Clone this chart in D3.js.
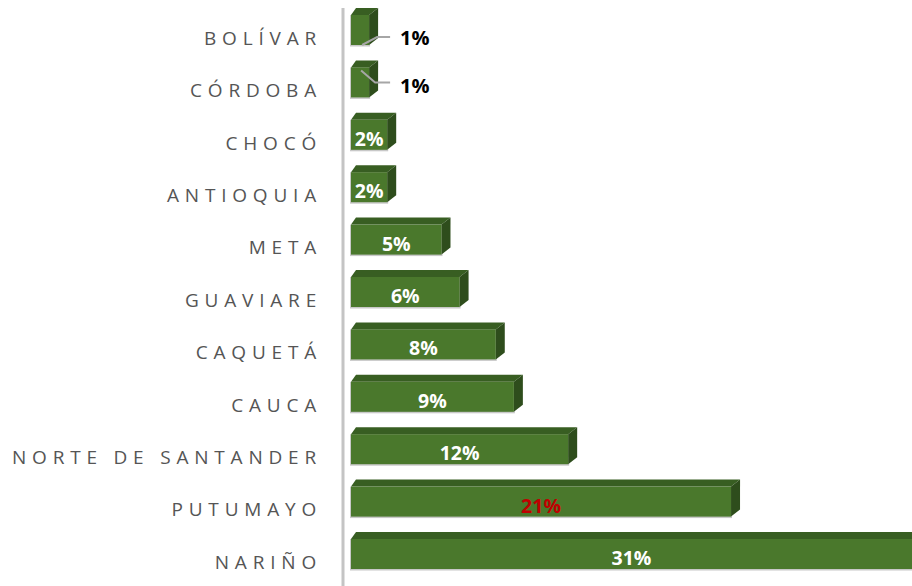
<!DOCTYPE html>
<html>
<head>
<meta charset="utf-8">
<script src="https://cdn.jsdelivr.net/npm/d3@7"></script>
<style>
  html, body { margin: 0; padding: 0; background: #fff; }
  svg { display: block; }
</style>
</head>
<body>
<div id="wrapper"></div>
<script>
const categories = ["BOLÍVAR", "CÓRDOBA", "CHOCÓ", "ANTIOQUIA", "META", "GUAVIARE",
  "CAQUETÁ", "CAUCA", "NORTE DE SANTANDER", "PUTUMAYO", "NARIÑO"];
const values = [1, 1, 2, 2, 5, 6, 8, 9, 12, 21, 31];
const valueLabels = ["1%", "1%", "2%", "2%", "5%", "6%", "8%", "9%", "12%", "21%", "31%"];

function drawBarChart() {
  const dataset = categories.map((c, i) => ({ cat: c, value: values[i], label: valueLabels[i] }));

  const dimensions = {
    width: 912,
    height: 586,
    margin: { top: 12, right: 0, bottom: 0, left: 351 },
  };

  const depth = { dx: 9, dy: 7, dxLeft: 5 };
  const faceHeight = 30;

  const wrapper = d3.select("#wrapper")
    .append("svg")
      .attr("width", dimensions.width)
      .attr("height", dimensions.height);

  // scales
  const xScale = d3.scaleLinear()
    .domain([0, 31])
    .range([dimensions.margin.left, dimensions.width]);

  const yScale = d3.scalePoint()
    .domain(categories)
    .range([38, 562]);

  // axis line
  wrapper.append("line")
    .attr("x1", 343).attr("x2", 343)
    .attr("y1", 8).attr("y2", dimensions.height)
    .attr("stroke", "#c4c4c4")
    .attr("stroke-width", 3);

  // category labels
  wrapper.append("g")
    .selectAll("text")
    .data(dataset)
    .join("text")
      .attr("x", 322)
      .attr("y", d => yScale(d.cat))
      .attr("dy", "0.36em")
      .attr("text-anchor", "end")
      .style("font-family", "'Open Sans', sans-serif")
      .style("font-size", "19px")
      .style("letter-spacing", "5.8px")
      .attr("fill", "#555555")
      .text(d => d.cat);

  // bars (3D look)
  const bars = wrapper.append("g")
    .selectAll("g")
    .data(dataset)
    .join("g");

  const x0 = xScale(0);
  const top = d => yScale(d.cat) - 23;
  const bottom = d => top(d) + faceHeight;

  // soft shadow outline
  bars.append("rect")
    .attr("x", x0 - 1)
    .attr("y", d => top(d))
    .attr("width", d => xScale(d.value) - x0 + 2)
    .attr("height", faceHeight + 1.5)
    .attr("fill", "#c8c8c8");

  bars.append("path")
    .attr("fill", "#385e22")
    .attr("d", d => {
      const x1 = xScale(d.value), y0 = top(d);
      return `M${x0},${y0} L${x0 + depth.dxLeft},${y0 - depth.dy} L${x1 + depth.dx},${y0 - depth.dy} L${x1},${y0} Z`;
    });

  bars.append("path")
    .attr("fill", "#2e4d1c")
    .attr("d", d => {
      const x1 = xScale(d.value), y0 = top(d), y1 = bottom(d);
      return `M${x1},${y0} L${x1 + depth.dx},${y0 - depth.dy} L${x1 + depth.dx},${y1 - depth.dy} L${x1},${y1} Z`;
    });

  bars.append("rect")
    .attr("x", x0)
    .attr("y", d => top(d))
    .attr("width", d => xScale(d.value) - x0)
    .attr("height", faceHeight)
    .attr("fill", "#4a782c");

  // value labels inside bars
  const inside = dataset.filter(d => xScale(d.value) - x0 > 25);
  wrapper.append("g")
    .selectAll("text")
    .data(inside)
    .join("text")
      .attr("x", d => (x0 + xScale(d.value)) / 2)
      .attr("y", d => top(d) + faceHeight / 2 + 4)
      .attr("dy", "0.36em")
      .attr("text-anchor", "middle")
      .style("font-family", "'Open Sans', sans-serif")
      .style("font-size", "19.5px")
      .style("font-weight", "bold")
      .attr("fill", d => d.cat === "PUTUMAYO" ? "#c00000" : "#ffffff")
      .text(d => d.label);

  // outside labels with leader lines (small bars)
  const outside = dataset.filter(d => xScale(d.value) - x0 <= 25);
  const leaders = [
    { from: [-7, 7], bend: [8, -1], to: [21, -1], text: [31, 0] },
    { from: [-8, -20], bend: [6, -8], to: [21, -8], text: [31, -5] },
  ];
  const out = wrapper.append("g")
    .selectAll("g")
    .data(outside)
    .join("g");

  out.append("polyline")
    .attr("fill", "none")
    .attr("stroke", "#a6a6a6")
    .attr("stroke-width", 2)
    .attr("points", (d, i) => {
      const L = leaders[i], xb = xScale(d.value), c = yScale(d.cat);
      return [L.from, L.bend, L.to].map(p => `${xb + p[0]},${c + p[1]}`).join(" ");
    });

  out.append("text")
    .attr("x", (d, i) => xScale(d.value) + leaders[i].text[0])
    .attr("y", (d, i) => yScale(d.cat) + leaders[i].text[1])
    .attr("dy", "0.36em")
    .style("font-family", "'Open Sans', sans-serif")
    .style("font-size", "20px")
    .style("font-weight", "bold")
    .attr("fill", "#000")
    .text(d => d.label);
}
drawBarChart();
</script>
</body>
</html>
